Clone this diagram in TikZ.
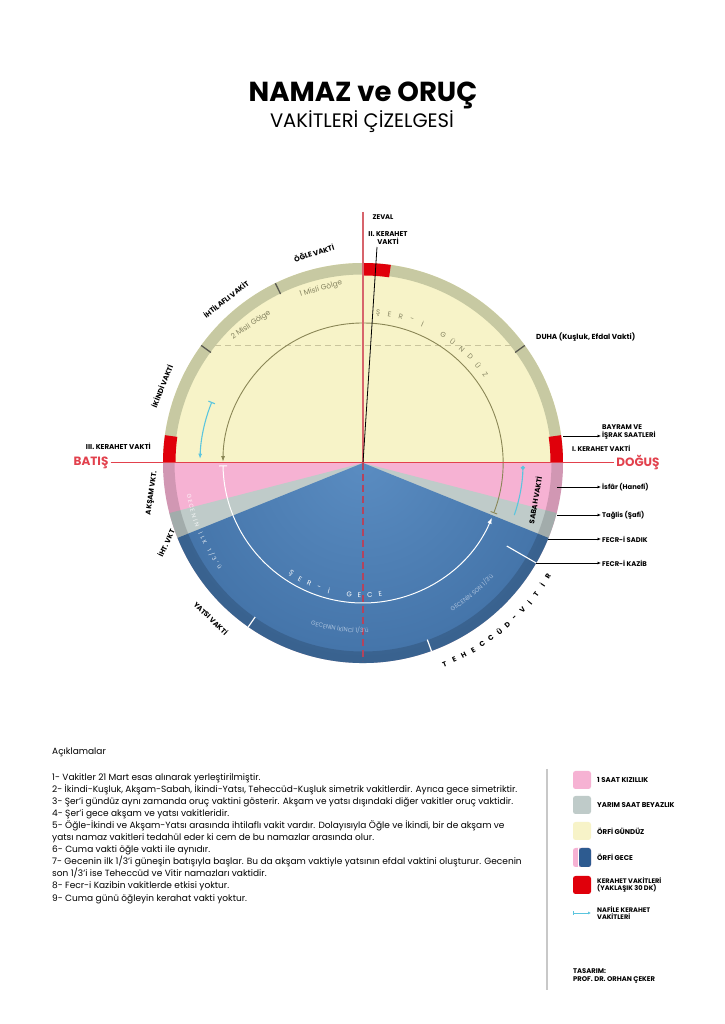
\documentclass[tikz,border=0pt]{standalone}
\usepackage{fontspec}
\setmainfont{Poppins}
\usetikzlibrary{arrows.meta,decorations.text}
\definecolor{yellowfill}{HTML}{F7F3C8}
\definecolor{sage}{HTML}{C7C9A2}
\definecolor{pinkfill}{HTML}{F6B2D3}
\definecolor{grayfill}{HTML}{BFCBC9}
\definecolor{bluein}{HTML}{5A8CC1}
\definecolor{blueout}{HTML}{2D5B90}
\definecolor{redk}{HTML}{E0000B}
\definecolor{cyanc}{HTML}{5BC5DE}
\definecolor{olivec}{HTML}{8A8656}
\definecolor{redline}{HTML}{E2414D}
\definecolor{zevline}{HTML}{D7646C}
\definecolor{dashred}{HTML}{B3445E}
\definecolor{tickc}{HTML}{5A5A50}
\definecolor{txtolive}{HTML}{858360}
\definecolor{chordc}{HTML}{C9C49C}
\definecolor{ltblue}{HTML}{A9C0DC}
\definecolor{legline}{HTML}{C8C8C8}
\newcommand\myfs[1]{\fontsize{#1}{#1}\selectfont}
\newcommand\myfsb[2]{\fontsize{#1}{#2}\selectfont}
\newcommand\arcword[6]{\foreach \ch [count=\ii from 0] in {#6}{\pgfmathsetmacro\myang{#2+\ii*(#3)}\node[#5,rotate=\myang+#4] at (\myang:#1) {\ch};}}
\begin{document}
\begin{tikzpicture}[x=1pt,y=1pt,
  lab/.style={font=\bfseries\myfs{7.1}, inner sep=1pt},
  rlab/.style={font=\bfseries\myfs{6.8}, inner sep=1pt, anchor=west, align=left},
  gtxt/.style={font=\myfs{7}, text=txtolive, inner sep=0pt},
  wtxt/.style={font=\myfs{6.8}, text=white, inner sep=0pt},
  wtxt2/.style={font=\myfs{5.8}, text=white, text opacity=0.85, inner sep=0pt},
  ttxt/.style={font=\bfseries\myfs{7}, text=black, inner sep=0pt},
  pointer/.style={line width=0.7pt, -{Latex[length=3.5pt,width=3pt]}},
  swatch/.style={rounded corners=2.5pt},
  leglab/.style={font=\bfseries\myfs{7}, anchor=west, align=left, inner sep=0pt}]
\useasboundingbox (0,0) rectangle (724,1024);
\fill[white] (0,0) rectangle (724,1024);

% title
\node[font=\bfseries\myfs{27.5}] (title) at (363,929) {NAMAZ ve ORUÇ};
\node[font=\myfs{19.5}] (subtitle) at (362,902) {VAKİTLERİ ÇİZELGESİ};

\begin{scope}[shift={(363,561)}]
  \coordinate (C) at (0,0);
  \fill[yellowfill] (0:200) arc[start angle=0,end angle=180,radius=200] -- cycle;
  \fill[pinkfill] (180:200) arc[start angle=180,end angle=360,radius=200] -- cycle;
  \fill[grayfill] (0,0) -- (194.5:200) arc[start angle=194.5,end angle=345.5,radius=200] -- cycle;
  \begin{scope}
    \clip (0,0) -- (202:200) arc[start angle=202,end angle=338,radius=200] -- cycle;
    \shade[inner color=bluein, outer color=blueout] (0,0) circle (400);
  \end{scope}
  % ring
  \fill[sage] (0:200) arc[start angle=0,end angle=180,radius=200] -- (180:188.5) arc[start angle=180,end angle=0,radius=188.5] -- cycle;
  \fill[black, opacity=0.15] (180:200) arc[start angle=180,end angle=360,radius=200] -- (0:188.5) arc[start angle=360,end angle=180,radius=188.5] -- cycle;
  \foreach \s in {0,82,172} \fill[redk] (\s:187.5) arc[start angle=\s,end angle={\s+8},radius=187.5] -- ({\s+8}:200) arc[start angle={\s+8},end angle=\s,radius=200] -- cycle;
  \foreach \a in {36,116,144} \draw[tickc, line width=1.3pt] (\a:188) -- (\a:200);
  \foreach \a in {-125,-70} \draw[white, line width=1.2pt] (\a:188) -- (\a:200);
  \draw[white, line width=1.1pt] (-30:166) -- (-30:200);
  \coordinate (kz) at (-30:200);
  % dashed chord
  \draw[chordc, line width=0.9pt, dash pattern=on 6pt off 4pt] (-148,118) -- (148,118);
  % dashed vertical below centre
  \draw[dashred, line width=1.3pt, dash pattern=on 7pt off 4pt] (0,0) -- (0,-198);
  % arcs
  \draw[olivec, line width=0.9pt, {Bar[width=7pt]}-{Latex[length=6pt,width=4pt]}] (-21:140) arc[start angle=-21,end angle=179.6,radius=140];
  \draw[white, line width=1pt, {Bar[width=8pt]}-{Latex[length=6pt,width=4.5pt]}] (181:140) arc[start angle=181,end angle=337,radius=140];
  \draw[cyanc, line width=1.1pt, {Bar[width=7pt]}-{Latex[length=5pt,width=4pt]}] (158:163) arc[start angle=158,end angle=178.5,radius=163];
  \draw[cyanc, line width=1.1pt, -{Circle[length=4pt]}] (-19:160) arc[start angle=-19,end angle=-1,radius=160];
  % arc texts
  \arcword{151}{84.3}{-4.4}{-90}{gtxt}{Ş,E,R,-,İ,{},G,Ü,N,D,Ü,Z}
  \arcword{132}{-123}{4.5}{90}{wtxt}{Ş,E,R,-,İ,{},G,E,C,E}
  \arcword{217}{-67.9}{2.8}{90}{ttxt}{T,E,H,E,C,C,Ü,D,-,V,İ,T,İ,R}
  \arcword{177}{191}{1.56}{90}{wtxt2}{G,E,C,E,N,İ,N,{},İ,L,K,{},1,/,3,',ü}
  \path[decoration={text along path, text={|\color{ltblue}\myfs{6}|GECENİN İKİNCİ 1/3'ü}, text align=center}, decorate] (-122:170) arc[start angle=-122,end angle=-74,radius=170];
  \path[decoration={text along path, text={|\color{ltblue}\myfs{6}|GECENİN SON 1/3'ü}, text align=center}, decorate] (-72:173) arc[start angle=-72,end angle=-28,radius=173];
\end{scope}

% top labels
\node[lab, font=\bfseries\myfs{6.8}] (zeval) at (383,807) {ZEVAL};
\node[lab, align=center, font=\bfseries\myfsb{7}{7.4}] (k2) at (388,786) {II. KERAHET\\VAKTİ};
\coordinate (zevtop) at (363,812);
\coordinate (k2end) at (377,777);
\draw[zevline, line width=1.2pt] (zevtop) -- (C);
\draw[black, line width=0.8pt] (k2end) -- (C);

% BATIŞ / DOĞUŞ
\node[font=\bfseries\myfs{12}, text=redline, inner sep=2pt] (batis) at (91,561) {BATIŞ};
\node[font=\bfseries\myfs{12}, text=redline, inner sep=2pt] (dogus) at (638,561) {DOĞUŞ};
\draw[redline, line width=1pt] (batis.east) -- (dogus.west);

% left/top rotated labels
\node[lab, rotate=17] (ogle) at (314,771) {ÖĞLE VAKTİ};
\node[lab, rotate=38] (ihtilaf) at (226,725) {İHTİLAFLI VAKİT};
\node[lab, rotate=68] (ikindi) at (162,638) {İKİNDİ VAKTİ};
\node[lab, anchor=east] (k3) at (152,578) {III. KERAHET VAKTİ};
\node[lab, rotate=82] (aksam) at (152,531) {AKŞAM VKT.};
\node[lab, rotate=65] (iht) at (166,481) {İHT. VKT};
\node[lab, rotate=-44] (yatsi) at (211,406) {YATSI VAKTİ};
\node[lab, rotate=80] (sabah) at (535,524) {SABAH VAKTİ};
\node[gtxt, font=\myfs{7.4}, rotate=16] (misli1) at (321,735) {1 Misli Gölge};
\node[gtxt, font=\myfs{7.4}, rotate=34] (misli2) at (251,699) {2 Misli Gölge};

% right labels
\node[rlab, font=\bfseries\myfs{7.3}] (duha) at (535,687) {DUHA (Kuşluk, Efdal Vakti)};
\node[rlab, font=\bfseries\myfsb{6.8}{7.4}] (bayram) at (601,592) {BAYRAM VE\\İŞRAK SAATLERİ};
\node[rlab] (k1) at (571,576) {I. KERAHET VAKTİ};
\node[rlab] (isfar) at (601,537) {İsfâr (Hanefi)};
\node[rlab] (taglis) at (601,509) {Tağlis (Şafi)};
\node[rlab] (sadik) at (601,485) {FECR-İ SADIK};
\node[rlab] (kazib) at (601,461) {FECR-İ KAZİB};
\coordinate (pb) at (563,588);
\coordinate (pi) at (557,537);
\coordinate (pt) at (557,509);
\coordinate (ps) at (548,485);
\draw[pointer] (pb) -- (bayram.west |- pb);
\draw[pointer] (pi) -- (isfar.west);
\draw[pointer] (pt) -- (taglis.west);
\draw[pointer] (ps) -- (sadik.west);
\draw[pointer] (kz) -- (kazib.west);

% notes
\node[anchor=west, font=\myfs{9}, inner sep=0] (acik) at (52,272) {Açıklamalar};
\node[anchor=north west, align=left, font=\myfsb{9}{12.1}, inner sep=0] (notes) at (52,251) {%
1- Vakitler 21 Mart esas alınarak yerleştirilmiştir.\\
2- İkindi-Kuşluk, Akşam-Sabah, İkindi-Yatsı, Teheccüd-Kuşluk simetrik vakitlerdir. Ayrıca gece simetriktir.\\
3- Şer'i gündüz aynı zamanda oruç vaktini gösterir. Akşam ve yatsı dışındaki diğer vakitler oruç vaktidir.\\
4- Şer'i gece akşam ve yatsı vakitleridir.\\
5- Öğle-İkindi ve Akşam-Yatsı arasında ihtilaflı vakit vardır. Dolayısıyla Öğle ve İkindi, bir de akşam ve\\
yatsı namaz vakitleri tedahül eder ki cem de bu namazlar arasında olur.\\
6- Cuma vakti öğle vakti ile aynıdır.\\
7- Gecenin ilk 1/3'i güneşin batışıyla başlar. Bu da akşam vaktiyle yatsının efdal vaktini oluşturur. Gecenin\\
son 1/3'i ise Teheccüd ve Vitir namazları vaktidir.\\
8- Fecr-i Kazibin vakitlerde etkisi yoktur.\\
9- Cuma günü öğleyin kerahat vakti yoktur.};

% legend
\draw[legline, line width=1.5pt] (547,255) -- (547,34);
\fill[pinkfill, swatch] (573,235) rectangle (591,253);
\node[leglab] (l1) at (597,244) {1 SAAT KIZILLIK};
\fill[grayfill, swatch] (573,210) rectangle (591,228);
\node[leglab] (l2) at (597,219) {YARIM SAAT BEYAZLIK};
\fill[yellowfill, swatch] (573,184) rectangle (591,202);
\node[leglab] (l3) at (597,193) {ÖRFİ GÜNDÜZ};
\fill[pinkfill, swatch] (573,157) rectangle (591,176);
\fill[white] (577.5,157) rectangle (579,176);
\fill[blueout, swatch] (579,157) rectangle (591,176);
\node[leglab] (l4) at (597,166.5) {ÖRFİ GECE};
\fill[redk, swatch] (573,130) rectangle (591,148);
\node[leglab, font=\bfseries\myfsb{6.6}{7.1}] (l5) at (597,139) {KERAHET VAKİTLERİ\\(YAKLAŞIK 30 DK)};
\coordinate (la) at (573,111);
\coordinate (lb) at (591,111);
\draw[cyanc, line width=0.8pt, {Bar[width=4pt]}-{Latex[length=3pt,width=3pt]}] (la) -- (lb);
\node[leglab, font=\bfseries\myfsb{6.6}{7.1}] (l6) at (597,111) {NAFİLE KERAHET\\VAKİTLERİ};
\node[leglab, font=\bfseries\myfsb{6.8}{7.4}] (design) at (573,48) {TASARIM:\\PROF. DR. ORHAN ÇEKER};
\end{tikzpicture}
\end{document}
